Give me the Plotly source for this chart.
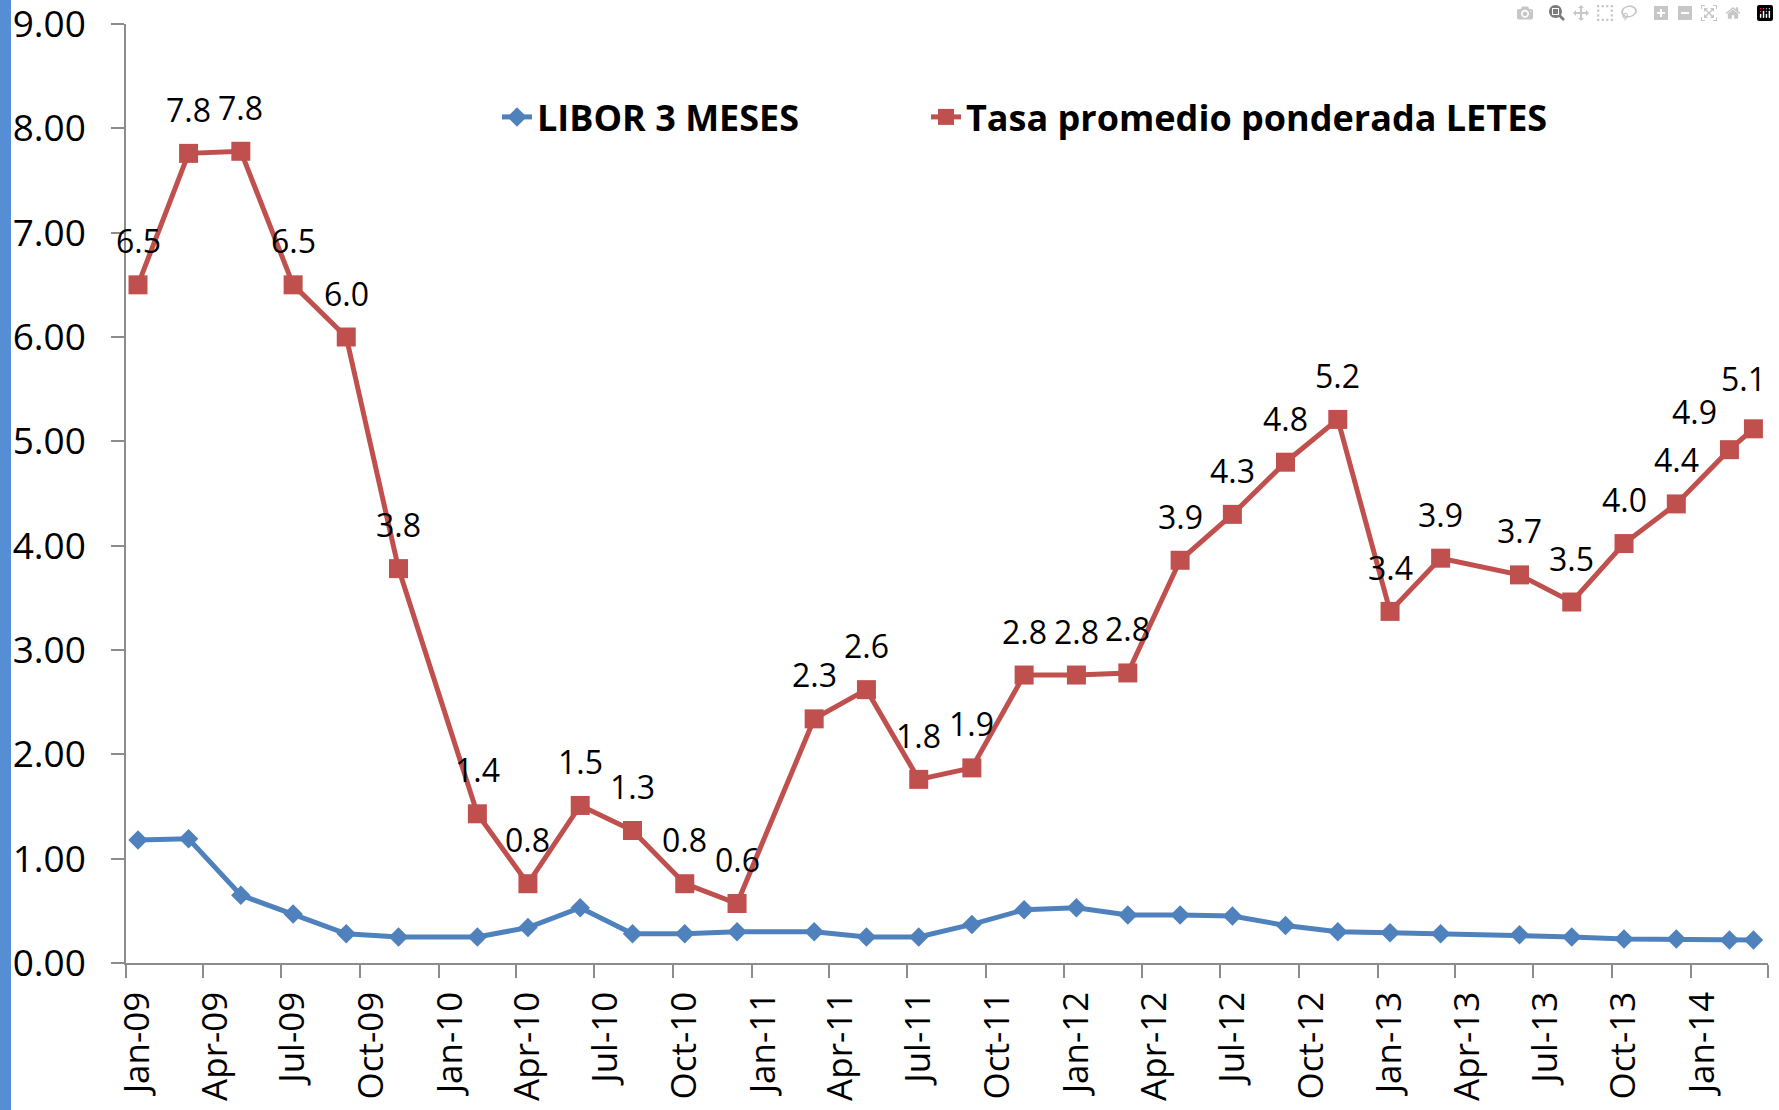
import plotly.graph_objects as go

# ---- data ----
dates = [
    "2009-01-15", "2009-03-15", "2009-05-15", "2009-07-15", "2009-09-15", "2009-11-15",
    "2010-02-15", "2010-04-15", "2010-06-15", "2010-08-15", "2010-10-15", "2010-12-15",
    "2011-03-15", "2011-05-15", "2011-07-15", "2011-09-15", "2011-11-15",
    "2012-01-15", "2012-03-15", "2012-05-15", "2012-07-15", "2012-09-15", "2012-11-15",
    "2013-01-15", "2013-03-15", "2013-06-15", "2013-08-15", "2013-10-15", "2013-12-15",
    "2014-02-15", "2014-03-15",
]
libor = [
    1.18, 1.19, 0.65, 0.47, 0.28, 0.25,
    0.25, 0.34, 0.53, 0.28, 0.28, 0.30,
    0.30, 0.25, 0.25, 0.37, 0.51,
    0.53, 0.46, 0.46, 0.45, 0.36, 0.30,
    0.29, 0.28, 0.27, 0.25, 0.23, 0.23,
    0.22, 0.22,
]
letes = [
    6.50, 7.76, 7.78, 6.50, 6.00, 3.78,
    1.43, 0.76, 1.51, 1.27, 0.76, 0.57,
    2.34, 2.62, 1.76, 1.87, 2.76,
    2.76, 2.78, 3.86, 4.30, 4.80, 5.21,
    3.37, 3.88, 3.72, 3.46, 4.02, 4.40,
    4.92, 5.12,
]
letes_labels = [f"{v:.1f}" for v in letes]

series_names = ["LIBOR 3 MESES", "Tasa promedio ponderada LETES"]

x_tick_vals = [
    "2009-01-01", "2009-04-01", "2009-07-01", "2009-10-01",
    "2010-01-01", "2010-04-01", "2010-07-01", "2010-10-01",
    "2011-01-01", "2011-04-01", "2011-07-01", "2011-10-01",
    "2012-01-01", "2012-04-01", "2012-07-01", "2012-10-01",
    "2013-01-01", "2013-04-01", "2013-07-01", "2013-10-01",
    "2014-01-01", "2014-04-01",
]
x_tick_text = [
    "Jan-09", "Apr-09", "Jul-09", "Oct-09",
    "Jan-10", "Apr-10", "Jul-10", "Oct-10",
    "Jan-11", "Apr-11", "Jul-11", "Oct-11",
    "Jan-12", "Apr-12", "Jul-12", "Oct-12",
    "Jan-13", "Apr-13", "Jul-13", "Oct-13",
    "Jan-14", "",
]
y_tick_vals = [0, 1, 2, 3, 4, 5, 6, 7, 8, 9]

# ---- styles ----
BLUE = "#4F81BD"
RED = "#C0504D"
AXIS = "#8C8C8C"
FONT = "Open Sans"

W, H = 1779, 1110
ML, MR, MT, MB = 126, 11, 24, 147
PW = W - ML - MR
PH = H - MT - MB

# manual nudges of a few data labels (pixel offsets), as in the original
label_nudge = {29: (-35, -6), 30: (-10, 6)}

fig = go.Figure()
fig.add_trace(go.Scatter(
    x=dates, y=libor, name=series_names[0], mode="lines+markers",
    line=dict(color=BLUE, width=5),
    marker=dict(symbol="diamond", size=15, color=BLUE),
    legend="legend",
))
fig.add_trace(go.Scatter(
    x=dates, y=letes, name=series_names[1], mode="lines+markers",
    line=dict(color=RED, width=5),
    marker=dict(symbol="square", size=19, color=RED),
    legend="legend2",
))

for i, (d, v, t) in enumerate(zip(dates, letes, letes_labels)):
    dx, dy = label_nudge.get(i, (0, 0))
    fig.add_annotation(
        x=d, y=v, text=t, showarrow=False, xanchor="center", yanchor="middle",
        xshift=dx, yshift=44 + dy, font=dict(family=FONT, size=32, color="black"),
    )

# blue strip at the left edge
fig.add_shape(
    type="rect", xref="paper", yref="paper",
    x0=-ML / PW, x1=-(ML - 11) / PW, y0=-0.3, y1=1.2,
    fillcolor="#558ED5", line=dict(width=0), layer="below",
)

legend_common = dict(
    orientation="h", xanchor="left", yanchor="middle",
    y=(H - MB - 117) / PH,
    font=dict(family=FONT, size=36, color="black", weight="bold"),
    bgcolor="rgba(0,0,0,0)", itemwidth=30,
)

fig.update_layout(
    width=W, height=H,
    margin=dict(l=ML, r=MR, t=MT, b=MB, pad=0, autoexpand=False),
    paper_bgcolor="white", plot_bgcolor="white",
    font=dict(family=FONT, color="black"),
    showlegend=True,
    legend=dict(x=(497 - ML) / PW, **legend_common),
    legend2=dict(x=(926 - ML) / PW, **legend_common),
    xaxis=dict(
        type="date", range=["2009-01-01", "2014-04-01"], automargin=False,
        tickmode="array", tickvals=x_tick_vals, ticktext=x_tick_text,
        tickangle=-90, ticks="outside", ticklen=13, tickwidth=1.5, tickcolor=AXIS,
        showline=True, linecolor=AXIS, linewidth=1.5, showgrid=False, zeroline=False,
        tickfont=dict(family=FONT, size=35, color="black"),
        ticklabelstandoff=0, ticklabelshift=12, ticklabeloverflow="allow",
    ),
    yaxis=dict(
        range=[0, 9], automargin=False,
        tickmode="array", tickvals=y_tick_vals, tickformat=".2f",
        ticks="outside", ticklen=13, tickwidth=1.5, tickcolor=AXIS,
        showline=True, linecolor=AXIS, linewidth=1.5, showgrid=False, zeroline=False,
        tickfont=dict(family=FONT, size=37, color="black"),
        ticklabelstandoff=18, ticklabeloverflow="allow",
    ),
)

fig.write_html("out.html", post_script="document.body.style.margin='0px';")
